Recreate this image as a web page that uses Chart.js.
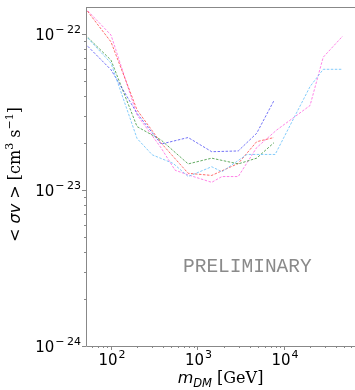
<!DOCTYPE html>
<html>
<head>
<meta charset="utf-8">
<script src="https://cdn.jsdelivr.net/npm/chart.js@4.4.0/dist/chart.umd.min.js"></script>
<style>
html, body { margin: 0; padding: 0; background: #fff; overflow: hidden; }
</style>
</head>
<body>
<canvas id="myChart" width="355" height="390"></canvas>
<script>
// masses in GeV, cross sections in cm^3 s^-1
const blueMass = [50, 100, 200, 380, 780, 1460, 2960, 4830, 7650];
const blueSigma = [8.7e-23, 5.9e-23, 3.1e-23, 1.97e-23, 2.17e-23, 1.76e-23, 1.78e-23, 2.31e-23, 3.74e-23];

const greenMass = [50, 100, 200, 380, 780, 1460, 2960, 4830, 7650];
const greenSigma = [9.9e-23, 6.8e-23, 2.55e-23, 2.09e-23, 1.47e-23, 1.6e-23, 1.47e-23, 1.6e-23, 2.01e-23];

const redMass = [50, 100, 200, 380, 780, 1460, 2960, 4830, 7650];
const redSigma = [1.47e-22, 8.9e-23, 3.26e-23, 2.0e-23, 1.28e-23, 1.24e-23, 1.48e-23, 2.04e-23, 2.17e-23];

const pinkMass = [50, 100, 200, 380, 550, 780, 1460, 1920, 2960, 4830, 8200, 20000, 28400, 47700];
const pinkSigma = [1.47e-22, 9.85e-23, 3.03e-23, 1.86e-23, 1.34e-23, 1.25e-23, 1.12e-23, 1.22e-23, 1.22e-23, 1.87e-23, 2.42e-23, 3.48e-23, 7.1e-23, 9.7e-23];

const cyanMass = [50, 100, 200, 300, 525, 780, 1460, 1920, 3730, 7900, 20000, 28400, 47700];
const cyanSigma = [9.85e-23, 6.5e-23, 2.14e-23, 1.68e-23, 1.48e-23, 1.22e-23, 1.41e-23, 1.31e-23, 1.69e-23, 1.69e-23, 4.6e-23, 5.94e-23, 5.94e-23];

const xMajor = [100, 1000, 10000];
const yMajor = [1e-24, 1e-23, 1e-22];

const toPoints = (xs, ys) => xs.map((m, i) => ({ x: m, y: ys[i] }));

const line = (pts, color) => ({
    data: pts,
    borderColor: color,
    borderWidth: 1,
    borderDash: [2.5, 1.5],
    pointRadius: 0,
    fill: false,
    tension: 0
});

// "10" with a raised exponent; a leading minus gets a little extra room like mathtext
const supText = (ctx, exp, x, y, align) => {
    const baseFont = '15px "DejaVu Sans"';
    const expFont = '11px "DejaVu Sans"';
    const parts = [];
    if (exp.startsWith('\u2212')) {
        parts.push({ t: '\u2212', gap: 2.5 });
        parts.push({ t: exp.slice(1), gap: 0 });
    } else {
        parts.push({ t: exp, gap: 0 });
    }
    ctx.font = baseFont;
    const wb = ctx.measureText('10').width;
    ctx.font = expFont;
    let we = 0;
    parts.forEach(p => { p.w = ctx.measureText(p.t).width; we += p.w + p.gap; });
    const w = wb + 1 + we;
    let x0 = x;
    if (align === 'right') x0 = x - w;
    if (align === 'center') x0 = x - w / 2;
    ctx.textAlign = 'left';
    ctx.textBaseline = 'alphabetic';
    ctx.font = baseFont;
    ctx.fillText('10', x0, y);
    ctx.font = expFont;
    let cx = x0 + wb + 1;
    parts.forEach(p => { ctx.fillText(p.t, cx, y - 7); cx += p.w + p.gap; });
};

const drawRuns = (ctx, runs) => {
    let w = 0;
    runs.forEach(r => { ctx.font = r.f; r.w = ctx.measureText(r.t).width; w += r.w; });
    let cx = -w / 2;
    runs.forEach(r => {
        ctx.font = r.f;
        ctx.fillText(r.t, cx, r.dy || 0);
        cx += r.w;
    });
};

const axesPlugin = {
    id: 'axes',
    afterDraw(chart) {
        const { ctx, chartArea: a, scales: { x, y } } = chart;
        ctx.save();
        ctx.strokeStyle = '#888';
        ctx.lineWidth = 1;
        ctx.beginPath();
        ctx.moveTo(a.left + 0.5, a.top + 0.5);
        ctx.lineTo(a.left + 0.5, a.bottom + 0.5);
        ctx.lineTo(a.right, a.bottom + 0.5);
        ctx.moveTo(a.left, a.top + 0.5);
        ctx.lineTo(a.right, a.top + 0.5);
        ctx.stroke();

        // log ticks
        ctx.beginPath();
        for (let d = 1; d <= 5; d++) {
            for (let m = 1; m <= 9; m++) {
                const v = m * Math.pow(10, d);
                if (v < x.min || v > x.max) continue;
                const px = Math.round(x.getPixelForValue(v)) + 0.5;
                const len = m === 1 ? 4 : 2;
                ctx.moveTo(px, a.bottom);
                ctx.lineTo(px, a.bottom + len);
            }
        }
        for (let d = -24; d <= -22; d++) {
            for (let m = 1; m <= 9; m++) {
                const v = m * Math.pow(10, d);
                if (v < y.min * 0.999 || v > y.max) continue;
                const py = Math.round(y.getPixelForValue(v)) + 0.5;
                const len = m === 1 ? 4 : 2;
                ctx.moveTo(a.left - len, py);
                ctx.lineTo(a.left, py);
            }
        }
        ctx.stroke();

        ctx.fillStyle = '#000';
        xMajor.forEach(v => {
            const px = x.getPixelForValue(v);
            supText(ctx, String(Math.round(Math.log10(v))), px + 1, 365, 'center');
        });
        yMajor.forEach(v => {
            const py = y.getPixelForValue(v);
            const e = Math.round(Math.log10(v));
            supText(ctx, '\u2212' + String(-e), 81, py + 5.5, 'right');
        });

        // axis titles
        ctx.textBaseline = 'alphabetic';
        ctx.save();
        ctx.translate((a.left + a.right) / 2, 383);
        drawRuns(ctx, [
            { t: 'm', f: 'italic 16px "DejaVu Sans"' },
            { t: 'DM', f: 'italic 11.5px "DejaVu Sans"', dy: 4 },
            { t: ' [GeV]', f: '16px "DejaVu Serif"' }
        ]);
        ctx.restore();

        ctx.save();
        ctx.translate(20, (a.top + a.bottom) / 2 - 2);
        ctx.rotate(-Math.PI / 2);
        drawRuns(ctx, [
            { t: '< ', f: '16px "DejaVu Sans"' },
            { t: '\u03c3v', f: 'italic 16px "DejaVu Sans"' },
            { t: ' >', f: '16px "DejaVu Sans"' },
            { t: ' [cm', f: '16px "DejaVu Serif"' },
            { t: '3', f: '11px "DejaVu Serif"', dy: -7 },
            { t: ' s', f: '16px "DejaVu Serif"' },
            { t: '\u22121', f: '11px "DejaVu Serif"', dy: -7 },
            { t: ']', f: '16px "DejaVu Serif"' }
        ]);
        ctx.restore();

        // watermark
        ctx.fillStyle = '#8a8a8a';
        ctx.font = '19.5px "Nimbus Mono PS", "Courier New", Courier, FreeMono, "DejaVu Sans Mono", monospace';
        ctx.textAlign = 'left';
        ctx.fillText('PRELIMINARY', 183, 272);
        ctx.restore();
    }
};

const ctx = document.getElementById('myChart').getContext('2d');
const myChart = new Chart(ctx, {
    type: 'line',
    data: {
        datasets: [
            line(toPoints(cyanMass, cyanSigma), 'rgba(110, 195, 250, 0.85)'),
            line(toPoints(blueMass, blueSigma), 'rgba(80, 80, 245, 0.8)'),
            line(toPoints(greenMass, greenSigma), 'rgba(60, 150, 60, 0.8)'),
            line(toPoints(redMass, redSigma), 'rgba(255, 70, 70, 0.8)'),
            line(toPoints(pinkMass, pinkSigma), 'rgba(255, 100, 225, 0.8)')
        ]
    },
    options: {
        responsive: false,
        animation: false,
        devicePixelRatio: 1,
        layout: { padding: { left: 86, top: 7, right: 0, bottom: 44 } },
        plugins: { legend: { display: false }, tooltip: { enabled: false } },
        scales: {
            x: { type: 'logarithmic', display: false, min: 51.4, max: 66200 },
            y: { type: 'logarithmic', display: false, min: 1e-24, max: 1.49e-22 }
        }
    },
    plugins: [axesPlugin]
});
</script>
</body>
</html>
